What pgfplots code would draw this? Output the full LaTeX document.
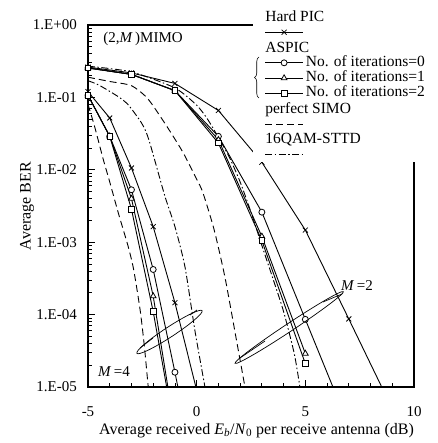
\documentclass[border=0pt]{standalone}
\usepackage{fontspec}
\setmainfont{Liberation Serif}
\usepackage{pgfplots}
\pgfplotsset{compat=1.18}
\usetikzlibrary{decorations.pathreplacing}

\pgfplotsset{
  base/.style={black, line width=0.9pt},
  hp/.style={base, mark=x, mark size=3.5pt, mark options={solid, line width=0.8pt}},
  it0/.style={base, mark=*, mark size=3pt, mark options={solid, fill=white, line width=0.8pt}},
  it1/.style={base, mark=triangle*, mark size=3.3pt, mark options={solid, fill=white, line width=0.8pt}},
  it2/.style={base, mark=square*, mark size=2.8pt, mark options={solid, fill=white, line width=0.8pt}},
  simo/.style={base, no markers, dash pattern=on 7pt off 4pt},
  sttd/.style={base, no markers, dash pattern=on 7pt off 2.5pt on 1.5pt off 2.5pt},
  heading/.style={legend image code/.code={
      \node[overlay, anchor=base west, inner sep=0pt] at (0pt,-0.3em) {#1};}},
}

\begin{document}
\fontsize{15}{18}\selectfont
\begin{tikzpicture}
\useasboundingbox (-88pt,-56pt) rectangle (349pt,387pt);
\begin{axis}[
    at={(0pt,0pt)}, anchor=south west,
    scale only axis,
    width=326pt, height=362pt,
    ymode=log,
    xmin=-5, xmax=10, ymin=1e-5, ymax=1,
    xtick={-5,0,5,10},
    xticklabels={-5,0,5,10},
    minor x tick num=4,
    ytick={1e-5,1e-4,1e-3,1e-2,1e-1,1},
    yticklabels={1.E-05,1.E-04,1.E-03,1.E-02,1.E-01,1.E+00},
    xtick pos=bottom, ytick pos=left,
    tick align=inside,
    major tick length=7pt, minor tick length=4pt,
    axis line style={line width=1.2pt},
    tick style={black, line width=0.8pt},
    yticklabel style={xshift=-6pt},
    xticklabel style={yshift=-14pt},
    legend image code/.code={
      \draw[mark repeat=2,mark phase=2,#1] plot coordinates {(0pt,0pt) (19pt,0pt) (38pt,0pt)};
    },
    legend cell align=left,
    legend style={at={(0.506,1.044)}, anchor=north west, fill=white, draw=none,
      inner xsep=11.5pt, inner ysep=0pt, row sep=0pt, column sep=2pt,
      font=\fontsize{15.5}{18}\selectfont,
      nodes={inner sep=0.4pt, text height=10.5pt, text depth=4pt}},
]
% ---- M = 2 ----
\addplot[hp, forget plot] coordinates {(-5,0.262) (-3,0.218) (-1,0.156) (1,0.066) (3,0.0127) (5,1.47e-3) (7,8.7e-5)};
\addplot[base, forget plot] coordinates {(7,8.7e-5) (9,5e-6)};
\addplot[it0, forget plot] coordinates {(-5,0.255) (-3,0.208) (-1,0.124) (1,0.029) (3,2.6e-3) (5,8.6e-5)};
\addplot[base, forget plot] coordinates {(5,8.6e-5) (7,2.9e-6)};
\addplot[it1, forget plot] coordinates {(-5,0.255) (-3,0.208) (-1,0.124) (1,0.026) (3,1.2e-3) (5,2.9e-5)};
\addplot[it2, forget plot] coordinates {(-5,0.255) (-3,0.208) (-1,0.124) (1,0.0234) (3,1.05e-3) (5,2.1e-5)};
\addplot[simo, smooth, tension=0.4, forget plot] coordinates {(-5,0.19) (-4,0.166) (-3,0.145) (-2.25,0.096) (-1.4,0.041) (-0.64,0.0176) (0,7.4e-3) (0.28,4.9e-3) (0.8,1.5e-3) (1.3,3.3e-4) (1.8,5e-5) (2.25,9e-6)};
\addplot[sttd, smooth, tension=0.4, forget plot] coordinates {(-5,0.27) (-3,0.225) (-1,0.135) (0,0.078) (0.5,0.05) (1,0.028) (1.5,0.015) (2,6.8e-3) (2.5,2.6e-3) (3,9e-4) (3.5,3.2e-4) (4,1.1e-4) (4.5,2.8e-5) (4.8,8e-6)};
% ---- M = 4 ----
\addplot[hp, forget plot] coordinates {(-5,0.12) (-4,0.052) (-3,0.0106) (-2,1.64e-3) (-1,1.46e-4)};
\addplot[base, forget plot] coordinates {(-1,1.46e-4) (0,9e-6)};
\addplot[it0, forget plot] coordinates {(-5,0.107) (-4,0.029) (-3,5.3e-3) (-2,4.2e-4) (-1,1.6e-5)};
\addplot[base, forget plot] coordinates {(-1,1.6e-5) (0,5e-7)};
\addplot[it1, forget plot] coordinates {(-5,0.107) (-4,0.029) (-3,4e-3) (-2,1.8e-4)};
\addplot[base, forget plot] coordinates {(-2,1.8e-4) (-1,2.5e-6)};
\addplot[it2, forget plot] coordinates {(-5,0.107) (-4,0.029) (-3,2.85e-3) (-2,1.1e-4)};
\addplot[base, forget plot] coordinates {(-2,1.1e-4) (-1,2.3e-6)};
\addplot[simo, smooth, tension=0.4, forget plot] coordinates {(-5,0.08) (-4.7,0.04) (-4.3,0.014) (-4,6.8e-3) (-3.6,2.5e-3) (-3.15,8.7e-4) (-2.9,4.2e-4) (-2.6,1.15e-4) (-2.4,3.5e-5) (-2.2,8e-6)};
\addplot[sttd, smooth, tension=0.4, forget plot] coordinates {(-5,0.17) (-4.5,0.148) (-3.6,0.102) (-3.15,0.079) (-2.53,0.044) (-2.2,0.026) (-1.46,4.3e-3) (-1,1.64e-3) (-0.54,4.6e-4) (-0.08,6e-5) (0.38,1e-5) (0.5,6e-6)};

% ---- legend ----
\addlegendimage{heading={Hard PIC}}\addlegendentry{}
\addlegendimage{hp}\addlegendentry{}
\addlegendimage{heading={ASPIC}}\addlegendentry{}
\addlegendimage{it0}\addlegendentry{No. of iterations=0}
\addlegendimage{it1}\addlegendentry{No. of iterations=1}
\addlegendimage{it2}\addlegendentry{No. of iterations=2}
\addlegendimage{heading={perfect SIMO}}\addlegendentry{}
\addlegendimage{simo}\addlegendentry{}
\addlegendimage{heading={16QAM-STTD}}\addlegendentry{}
\addlegendimage{sttd}\addlegendentry{}

\node[anchor=west] at (rel axis cs:0.031,0.961) {(2,\textit{M}\,)MIMO};
\node at (rel axis cs:0.0798,0.0414) {\textit{M}\,=4};
\node at (rel axis cs:0.825,0.279) {\textit{M}\,=2};
\end{axis}
% axis labels
\node[font=\fontsize{16}{19}\selectfont] at (168.5pt,-43.5pt)
  {Average received \textit{E}\textsubscript{\textit{b}}/\textit{N}\textsubscript{0} per receive antenna (dB)};
\node[font=\fontsize{16}{19}\selectfont, rotate=90] at (-61pt,181pt) {Average BER};
% group markers
\draw[line width=0.7pt, rotate around={33.5:(201.2pt,59.5pt)}] (201.2pt,59.5pt) ellipse (65pt and 4pt);
\draw[line width=0.7pt] (152pt,29pt) -- (177pt,46pt);
\draw[line width=0.7pt] (235pt,85pt) -- (254pt,93pt);
\draw[line width=0.7pt, rotate around={33.2:(81.5pt,55pt)}] (81.5pt,55pt) ellipse (39pt and 5pt);
\draw[line width=0.7pt] (52pt,39pt) -- (65pt,49pt);
\draw[line width=0.7pt] (102pt,72pt) -- (109pt,77pt);
\draw[decorate, decoration={brace, amplitude=4.5pt}, line width=0.6pt] (171pt,289pt) -- (171pt,330pt);
\end{tikzpicture}
\end{document}
